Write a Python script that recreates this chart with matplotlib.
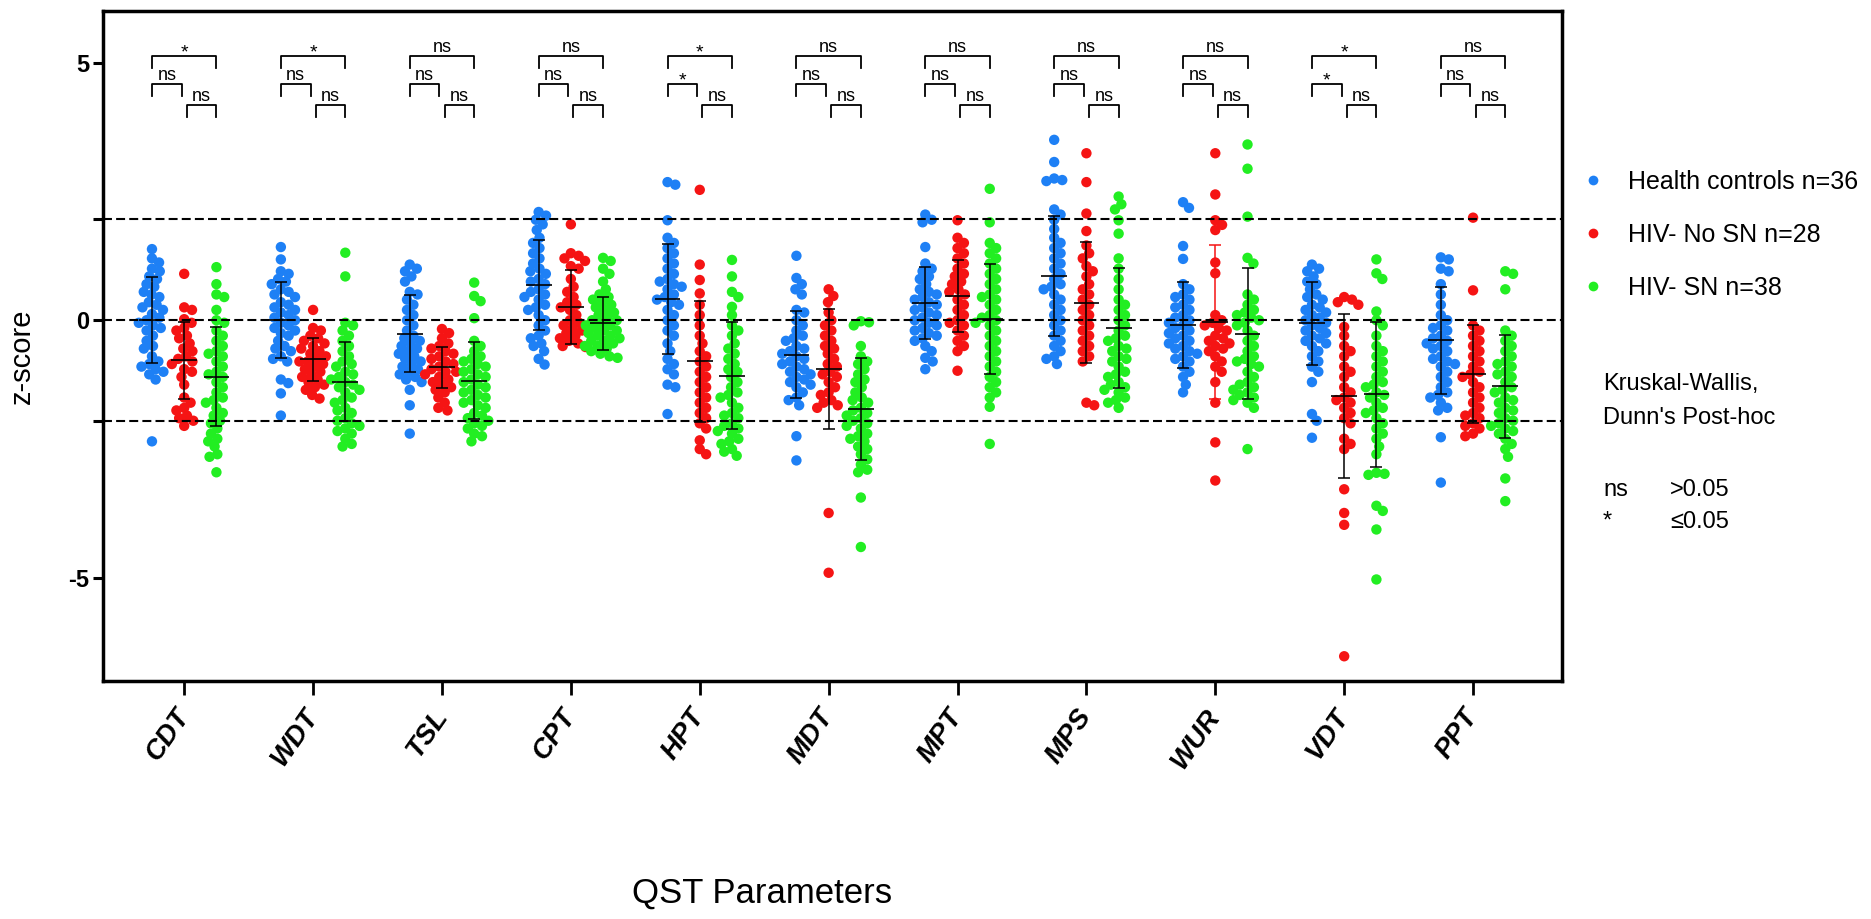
import numpy as np
import matplotlib.pyplot as plt
from matplotlib.lines import Line2D

plt.rcParams['font.family'] = ['Liberation Sans', 'DejaVu Sans']

params = ['CDT', 'WDT', 'TSL', 'CPT', 'HPT', 'MDT', 'MPT', 'MPS', 'WUR', 'VDT', 'PPT']
group_labels = ['Health controls n=36', 'HIV- No SN n=28', 'HIV- SN n=38']

# z-scores, health controls
hc_cdt = [1.38, 1.2, 1.12, 1.0, 0.95, 0.85, 0.8, 0.7, 0.65, 0.55, 0.5, 0.45, 0.35, 0.3, 0.25, 0.2, 0.12, 0.05,
          0.0, -0.05, -0.1, -0.15, -0.2, -0.3, -0.4, -0.5, -0.55, -0.7, -0.8, -0.85, -0.9, -0.95, -1.0, -1.05, -1.15, -2.35]
hc_wdt = [1.42, 1.18, 0.95, 0.9, 0.8, 0.75, 0.7, 0.6, 0.55, 0.5, 0.45, 0.35, 0.3, 0.25, 0.2, 0.15, 0.1, 0.05,
          0.0, -0.05, -0.1, -0.15, -0.2, -0.25, -0.3, -0.4, -0.5, -0.55, -0.6, -0.7, -0.75, -0.8, -1.15, -1.22, -1.42, -1.85]
hc_tsl = [1.08, 1.0, 0.95, 0.85, 0.75, 0.55, 0.5, 0.4, 0.3, 0.2, 0.1, 0.0, -0.1, -0.2, -0.3, -0.35, -0.4, -0.45,
          -0.5, -0.55, -0.6, -0.65, -0.7, -0.75, -0.8, -0.85, -0.9, -0.95, -1.0, -1.05, -1.1, -1.15, -1.2, -1.35, -1.65, -2.2]
hc_cpt = [2.1, 2.03, 1.95, 1.86, 1.75, 1.6, 1.5, 1.4, 1.3, 1.2, 1.1, 1.0, 0.95, 0.9, 0.8, 0.75, 0.7, 0.6,
          0.55, 0.5, 0.45, 0.4, 0.3, 0.25, 0.2, 0.1, 0.0, -0.1, -0.2, -0.3, -0.35, -0.45, -0.5, -0.6, -0.75, -0.86]
hc_hpt = [2.68, 2.63, 1.94, 1.6, 1.5, 1.4, 1.3, 1.2, 1.1, 1.0, 0.9, 0.8, 0.75, 0.7, 0.65, 0.6, 0.5, 0.45,
          0.4, 0.35, 0.3, 0.2, 0.1, 0.0, -0.1, -0.2, -0.3, -0.45, -0.6, -0.75, -0.85, -0.95, -1.05, -1.25, -1.3, -1.82]
hc_mdt = [1.25, 0.82, 0.7, 0.6, 0.5, 0.2, 0.15, 0.0, -0.1, -0.2, -0.3, -0.35, -0.4, -0.5, -0.55, -0.6, -0.65, -0.7,
          -0.75, -0.8, -0.85, -0.9, -0.95, -1.0, -1.05, -1.1, -1.15, -1.2, -1.25, -1.3, -1.4, -1.5, -1.55, -1.65, -2.25, -2.72]
hc_mpt = [2.05, 1.95, 1.9, 1.42, 1.1, 1.0, 0.95, 0.85, 0.8, 0.7, 0.6, 0.55, 0.5, 0.45, 0.4, 0.35, 0.3, 0.25,
          0.2, 0.15, 0.1, 0.05, 0.0, -0.05, -0.1, -0.15, -0.2, -0.25, -0.3, -0.35, -0.4, -0.5, -0.6, -0.73, -0.8, -0.95]
hc_mps = [3.5, 3.07, 2.75, 2.72, 2.7, 2.15, 2.05, 1.95, 1.77, 1.6, 1.5, 1.4, 1.3, 1.2, 1.1, 1.0, 0.9, 0.8,
          0.7, 0.65, 0.6, 0.5, 0.4, 0.3, 0.2, 0.1, 0.0, -0.1, -0.2, -0.3, -0.4, -0.5, -0.6, -0.7, -0.75, -0.85]
hc_wur = [2.29, 2.18, 1.44, 1.19, 0.7, 0.6, 0.5, 0.45, 0.4, 0.3, 0.25, 0.2, 0.1, 0.05, 0.0, -0.05, -0.1, -0.15,
          -0.2, -0.25, -0.3, -0.35, -0.4, -0.45, -0.5, -0.55, -0.6, -0.65, -0.7, -0.75, -0.8, -0.9, -1.0, -1.1, -1.25, -1.4]
hc_vdt = [1.08, 1.0, 0.95, 0.85, 0.75, 0.7, 0.6, 0.5, 0.45, 0.4, 0.3, 0.25, 0.2, 0.15, 0.1, 0.05, 0.0, -0.05,
          -0.1, -0.15, -0.2, -0.25, -0.3, -0.35, -0.4, -0.45, -0.5, -0.6, -0.7, -0.8, -0.9, -1.0, -1.2, -1.82, -1.95, -2.28]
hc_ppt = [1.22, 1.18, 1.0, 0.95, 0.7, 0.5, 0.3, 0.1, 0.0, -0.1, -0.15, -0.2, -0.3, -0.35, -0.4, -0.45, -0.5, -0.55,
          -0.6, -0.7, -0.75, -0.8, -0.85, -0.9, -1.0, -1.1, -1.2, -1.3, -1.4, -1.45, -1.5, -1.6, -1.7, -1.75, -2.27, -3.15]

# z-scores, HIV without SN
nosn_cdt = [0.9, 0.25, 0.2, 0.02, -0.05, -0.15, -0.2, -0.3, -0.35, -0.45, -0.55, -0.6, -0.7, -0.75,
            -0.8, -0.85, -0.95, -1.0, -1.1, -1.25, -1.5, -1.6, -1.7, -1.75, -1.85, -1.9, -1.95, -2.05]
nosn_wdt = [0.2, -0.15, -0.2, -0.3, -0.35, -0.4, -0.45, -0.5, -0.55, -0.6, -0.65, -0.7, -0.75, -0.8,
            -0.8, -0.85, -0.9, -0.95, -1.0, -1.05, -1.1, -1.15, -1.2, -1.25, -1.3, -1.35, -1.45, -1.52]
nosn_tsl = [-0.17, -0.25, -0.35, -0.45, -0.5, -0.55, -0.6, -0.65, -0.7, -0.75, -0.8, -0.85, -0.9, -0.95,
            -1.0, -1.0, -1.05, -1.1, -1.15, -1.2, -1.25, -1.3, -1.35, -1.4, -1.5, -1.6, -1.7, -1.75]
nosn_cpt = [1.86, 1.3, 1.25, 1.2, 1.15, 1.05, 1.0, 0.8, 0.65, 0.55, 0.45, 0.35, 0.3, 0.25,
            0.2, 0.1, 0.0, -0.05, -0.1, -0.15, -0.2, -0.25, -0.3, -0.35, -0.4, -0.45, -0.5, -0.52]
nosn_hpt = [2.53, 1.08, 0.78, 0.52, 0.3, 0.1, -0.1, -0.3, -0.45, -0.6, -0.7, -0.8, -0.9, -1.0,
            -1.1, -1.2, -1.3, -1.4, -1.5, -1.6, -1.7, -1.8, -1.9, -2.0, -2.1, -2.33, -2.5, -2.6]
nosn_mdt = [0.6, 0.47, 0.35, 0.15, 0.0, -0.1, -0.2, -0.3, -0.4, -0.5, -0.55, -0.65, -0.75, -0.85,
            -0.9, -1.0, -1.05, -1.1, -1.2, -1.3, -1.4, -1.45, -1.55, -1.6, -1.65, -1.7, -3.74, -4.9]
nosn_mpt = [1.94, 1.6, 1.5, 1.4, 1.3, 1.2, 1.1, 1.0, 0.9, 0.85, 0.75, 0.7, 0.6, 0.55,
            0.5, 0.4, 0.3, 0.2, 0.1, 0.0, -0.05, -0.1, -0.2, -0.3, -0.4, -0.5, -0.6, -0.98]
nosn_mps = [3.24, 2.68, 2.07, 1.73, 1.45, 1.3, 1.2, 1.05, 0.95, 0.85, 0.7, 0.6, 0.5, 0.4,
            0.3, 0.2, 0.1, 0.0, -0.1, -0.2, -0.3, -0.4, -0.5, -0.6, -0.7, -0.8, -1.6, -1.65]
nosn_wur = [3.24, 2.44, 1.94, 1.85, 1.75, 1.12, 0.91, 0.1, 0.0, -0.05, -0.1, -0.15, -0.2, -0.3,
            -0.35, -0.4, -0.45, -0.5, -0.55, -0.6, -0.7, -0.8, -0.9, -1.0, -1.2, -1.6, -2.37, -3.11]
nosn_vdt = [0.45, 0.4, 0.35, 0.3, -0.13, -0.3, -0.5, -0.6, -0.7, -0.9, -1.0, -1.1, -1.3, -1.4,
            -1.5, -1.55, -1.6, -1.7, -1.8, -1.9, -2.0, -2.3, -2.4, -2.5, -3.28, -3.74, -3.97, -6.52]
nosn_ppt = [1.99, 0.58, -0.1, -0.2, -0.3, -0.4, -0.5, -0.6, -0.7, -0.8, -0.9, -1.0, -1.05, -1.1,
            -1.2, -1.3, -1.4, -1.5, -1.6, -1.7, -1.8, -1.85, -1.9, -2.0, -2.05, -2.1, -2.2, -2.25]

# z-scores, HIV with SN
sn_cdt = [1.03, 0.7, 0.5, 0.45, 0.2, 0.0, -0.05, -0.2, -0.3, -0.4, -0.5, -0.6, -0.65, -0.7, -0.8, -0.9, -1.0, -1.05, -1.1,
          -1.2, -1.3, -1.4, -1.5, -1.55, -1.6, -1.7, -1.8, -1.85, -1.95, -2.0, -2.1, -2.2, -2.3, -2.35, -2.45, -2.6, -2.65, -2.95]
sn_wdt = [1.31, 0.85, -0.05, -0.1, -0.2, -0.3, -0.4, -0.5, -0.6, -0.7, -0.8, -0.85, -0.9, -1.0, -1.05, -1.1, -1.15, -1.2, -1.25,
          -1.3, -1.35, -1.4, -1.5, -1.55, -1.6, -1.7, -1.75, -1.8, -1.9, -1.95, -2.0, -2.05, -2.1, -2.15, -2.2, -2.3, -2.4, -2.45]
sn_tsl = [0.73, 0.47, 0.37, 0.04, -0.4, -0.5, -0.6, -0.7, -0.75, -0.8, -0.85, -0.9, -0.95, -1.0, -1.05, -1.1, -1.15, -1.2, -1.25,
          -1.3, -1.35, -1.4, -1.45, -1.5, -1.55, -1.6, -1.65, -1.7, -1.8, -1.85, -1.9, -1.95, -2.0, -2.05, -2.1, -2.2, -2.25, -2.35]
sn_cpt = [1.21, 1.15, 1.0, 0.9, 0.75, 0.6, 0.5, 0.45, 0.4, 0.35, 0.3, 0.25, 0.2, 0.15, 0.1, 0.05, 0.0, 0.0, -0.05,
          -0.1, -0.1, -0.15, -0.2, -0.2, -0.25, -0.3, -0.3, -0.35, -0.4, -0.4, -0.45, -0.5, -0.5, -0.55, -0.6, -0.65, -0.7, -0.73]
sn_hpt = [1.17, 0.85, 0.55, 0.45, 0.26, 0.1, -0.1, -0.2, -0.3, -0.45, -0.55, -0.65, -0.75, -0.85, -0.95, -1.0, -1.1, -1.2, -1.3,
          -1.4, -1.45, -1.5, -1.6, -1.7, -1.8, -1.85, -1.9, -2.0, -2.05, -2.1, -2.15, -2.2, -2.3, -2.35, -2.4, -2.5, -2.55, -2.63]
sn_mdt = [-0.02, -0.04, -0.1, -0.5, -0.7, -0.8, -0.85, -0.95, -1.05, -1.15, -1.2, -1.3, -1.4, -1.5, -1.55, -1.6, -1.7, -1.75, -1.8,
          -1.85, -1.9, -1.95, -2.0, -2.05, -2.1, -2.2, -2.25, -2.3, -2.35, -2.45, -2.5, -2.6, -2.7, -2.8, -2.9, -2.95, -3.44, -4.4]
sn_mpt = [2.55, 1.9, 1.5, 1.4, 1.3, 1.2, 1.1, 1.0, 0.9, 0.8, 0.7, 0.6, 0.5, 0.45, 0.4, 0.3, 0.2, 0.1, 0.05,
          0.0, -0.05, -0.1, -0.2, -0.3, -0.4, -0.5, -0.6, -0.7, -0.8, -0.9, -1.0, -1.1, -1.2, -1.3, -1.4, -1.5, -1.68, -2.4]
sn_mps = [2.4, 2.25, 2.15, 1.94, 1.68, 1.2, 1.0, 0.8, 0.6, 0.4, 0.3, 0.2, 0.1, 0.0, -0.1, -0.2, -0.3, -0.35, -0.4,
          -0.5, -0.55, -0.6, -0.7, -0.75, -0.8, -0.9, -1.0, -1.05, -1.1, -1.2, -1.25, -1.3, -1.35, -1.4, -1.5, -1.55, -1.6, -1.7]
sn_wur = [3.41, 2.94, 2.01, 1.21, 1.1, 0.5, 0.4, 0.3, 0.2, 0.15, 0.1, 0.05, 0.0, -0.05, -0.1, -0.2, -0.3, -0.4, -0.5,
          -0.6, -0.7, -0.75, -0.8, -0.85, -0.9, -1.0, -1.1, -1.2, -1.25, -1.3, -1.35, -1.4, -1.45, -1.5, -1.55, -1.6, -1.7, -2.5]
sn_vdt = [1.18, 0.91, 0.8, 0.17, 0.0, -0.1, -0.3, -0.5, -0.6, -0.7, -0.8, -0.9, -1.0, -1.1, -1.2, -1.25, -1.3, -1.4, -1.45,
          -1.5, -1.6, -1.7, -1.75, -1.8, -1.9, -2.0, -2.1, -2.2, -2.3, -2.45, -2.6, -2.96, -2.98, -3.0, -3.6, -3.7, -4.06, -5.03]
sn_ppt = [0.95, 0.9, 0.6, -0.2, -0.3, -0.4, -0.5, -0.6, -0.7, -0.8, -0.85, -0.9, -1.0, -1.05, -1.1, -1.2, -1.3, -1.35, -1.4,
          -1.5, -1.55, -1.6, -1.7, -1.75, -1.8, -1.9, -1.95, -2.0, -2.05, -2.1, -2.15, -2.2, -2.3, -2.4, -2.5, -2.65, -3.07, -3.51]

# mean and SD bars as drawn in the figure
hc_mean = [0.0, 0.0, -0.26, 0.69, 0.41, -0.67, 0.33, 0.86, -0.09, -0.06, -0.39]
hc_sd = [0.83, 0.74, 0.75, 0.87, 1.07, 0.84, 0.70, 1.16, 0.84, 0.80, 1.04]
nosn_mean = [-0.78, -0.76, -0.91, 0.26, -0.80, -0.95, 0.47, 0.34, -0.03, -1.47, -1.04]
nosn_sd = [0.75, 0.42, 0.40, 0.72, 1.17, 1.17, 0.70, 1.17, 1.49, 1.60, 0.95]
sn_mean = [-1.10, -1.19, -1.17, -0.06, -1.08, -1.73, 0.02, -0.15, -0.26, -1.44, -1.28]
sn_sd = [0.96, 0.77, 0.75, 0.51, 1.04, 0.99, 1.07, 1.17, 1.27, 1.40, 1.00]

# Dunn's post-hoc labels: HC vs SN, HC vs No SN, No SN vs SN
sig_hc_sn = ['*', '*', 'ns', 'ns', '*', 'ns', 'ns', 'ns', 'ns', '*', 'ns']
sig_hc_nosn = ['ns', 'ns', 'ns', 'ns', '*', 'ns', 'ns', 'ns', 'ns', '*', 'ns']
sig_nosn_sn = ['ns'] * 11

healthy = [hc_cdt, hc_wdt, hc_tsl, hc_cpt, hc_hpt, hc_mdt, hc_mpt, hc_mps, hc_wur, hc_vdt, hc_ppt]
no_sn = [nosn_cdt, nosn_wdt, nosn_tsl, nosn_cpt, nosn_hpt, nosn_mdt, nosn_mpt, nosn_mps, nosn_wur, nosn_vdt, nosn_ppt]
sn = [sn_cdt, sn_wdt, sn_tsl, sn_cpt, sn_hpt, sn_mdt, sn_mpt, sn_mps, sn_wur, sn_vdt, sn_ppt]

groups = [healthy, no_sn, sn]
means = [hc_mean, nosn_mean, sn_mean]
sds = [hc_sd, nosn_sd, sn_sd]
colors = ['#1E80F5', '#F51414', '#22EE22']
offsets = [-0.25, 0.0, 0.25]

W, H = 1871, 919
fig = plt.figure(figsize=(W / 100, H / 100), dpi=100)
ax = fig.add_axes([103 / W, 1 - 681 / H, (1562 - 103) / W, (681 - 11) / H])
ax.set_xlim(-0.63, 10.69)
ax.set_ylim(-7, 6)

# pixel scales used for the swarm layout
xpx = (1562 - 103) / (10.69 + 0.63)
ypx = (681 - 11) / 13.0
dot = 8.2


def swarm(vals, d):
    ys = np.asarray(vals) * ypx
    xs = np.zeros(len(ys))
    placed = []
    for i in np.argsort(-ys):
        y = ys[i]
        near = [(px, py) for px, py in placed if abs(py - y) < d]
        cands = [0.0]
        for px, py in near:
            dx = np.sqrt(d * d - (py - y) ** 2)
            cands += [px + dx, px - dx]
        cands.sort(key=abs)
        for c in cands:
            if all((c - px) ** 2 + (y - py) ** 2 >= d * d - 1e-6 for px, py in near):
                xs[i] = c
                break
        placed.append((xs[i], y))
    return xs / xpx


for lev in [0, 1.96, -1.96]:
    ax.axhline(lev, color='black', lw=1.5, dashes=(4.3, 2), zorder=2.5)

for g in range(3):
    for i in range(len(params)):
        vals = groups[g][i]
        xc = i + offsets[g]
        ax.scatter(xc + swarm(vals, dot), vals, s=56, color=colors[g], edgecolors='none', zorder=2)
        ecol = colors[1] if (g == 1 and params[i] == 'WUR') else 'black'
        ax.errorbar(xc, means[g][i], yerr=sds[g][i], fmt='none', ecolor=ecol, elinewidth=1.1,
                    capsize=4.5, capthick=1.1, zorder=3)
        ax.hlines(means[g][i], xc - 0.1, xc + 0.1, color='black', lw=1.2, zorder=3)

# significance brackets
brackets = [(sig_hc_sn, 0, 2, 5.12), (sig_hc_nosn, 0, 1, 4.58), (sig_nosn_sn, 1, 2, 4.17)]
for labels, g1, g2, yb in brackets:
    for i, lab in enumerate(labels):
        x1 = i + offsets[g1] + (0.02 if g1 == 1 else 0)
        x2 = i + offsets[g2] - (0.02 if g2 == 1 else 0)
        ax.plot([x1, x1, x2, x2], [yb - 0.22, yb, yb, yb - 0.22], color='black', lw=1.3, zorder=3)
        if lab == '*':
            ax.text((x1 + x2) / 2, yb - 0.02, lab, ha='center', va='baseline', fontsize=14)
        else:
            ax.text((x1 + x2) / 2, yb + 0.09, lab, ha='center', va='baseline', fontsize=13)

for sp in ax.spines.values():
    sp.set_linewidth(2.5)

ax.set_yticks([-5, 0, 5])
ax.set_yticklabels(['-5', '0', '5'], fontsize=17, fontweight='bold')
ax.set_yticks([-1.96, 1.96], minor=True)
ax.tick_params(axis='y', which='both', length=7, width=2.2, pad=3)
ax.set_xticks(range(len(params)))
ax.set_xticklabels(params, rotation=55, ha='right', va='center', rotation_mode='anchor',
                   fontsize=20, fontweight='bold', fontstyle='italic')
ax.tick_params(axis='x', length=10, width=2.0, pad=12)

fig.text(22 / W, 1 - 356 / H, 'z-score', rotation=90, ha='center', va='center', fontsize=21)
fig.text(762 / W, 1 - 893 / H, 'QST Parameters', ha='center', va='center', fontsize=25)

handles = [Line2D([], [], marker='o', ls='none', markersize=7, markerfacecolor=c, markeredgecolor='none')
           for c in colors]
fig.legend(handles, group_labels, loc='upper left', bbox_to_anchor=(1583 / W, 1 - 170 / H),
           frameon=False, fontsize=18, handlelength=0.8, handletextpad=1.0, labelspacing=1.16,
           borderpad=0, borderaxespad=0)

fig.text(1603 / W, 1 - 384 / H, 'Kruskal-Wallis,', ha='left', va='center', fontsize=17)
fig.text(1603 / W, 1 - 418 / H, "Dunn's Post-hoc", ha='left', va='center', fontsize=17)
fig.text(1603 / W, 1 - 490 / H, 'ns', ha='left', va='center', fontsize=17)
fig.text(1670 / W, 1 - 490 / H, '>0.05', ha='left', va='center', fontsize=17)
fig.text(1603 / W, 1 - 522 / H, '*', ha='left', va='center', fontsize=17)
fig.text(1670 / W, 1 - 522 / H, '\u22640.05', ha='left', va='center', fontsize=17)

fig.savefig('out.png', dpi=100)
